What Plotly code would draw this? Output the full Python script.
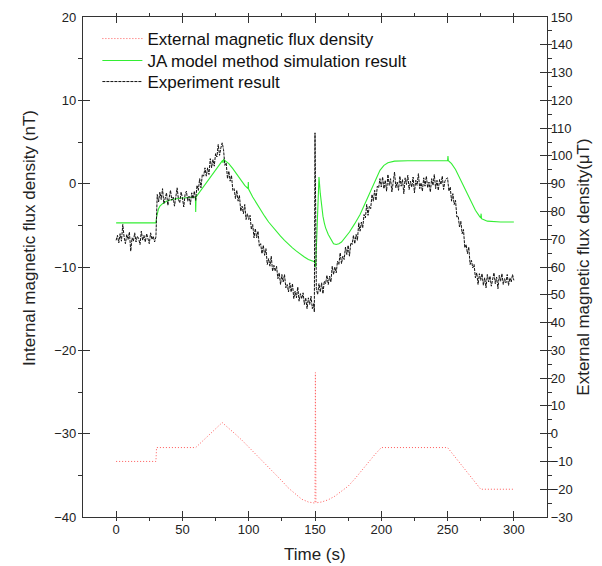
import plotly.graph_objects as go

# ---------------- data ----------------
ext_time = [0, 30, 30.5, 60, 80, 85, 90, 95, 100, 105, 110, 115, 120, 125, 130, 135, 140, 145, 150,
            150.3, 150.7, 155, 160, 165, 170, 175, 180, 185, 190, 195, 200, 250, 275, 300]
ext_vals = [-10, -10, -5, -5, 4, 2.0, -0.2, -2.4, -4.8, -7.3, -9.7, -12.0, -14.5, -17.0, -19.6, -21.7, -23.6, -24.6, -25.0,
            22, -24.9, -24.6, -23.8, -22.5, -20.8, -18.9, -16.3, -13.3, -10.3, -7.6, -5.0, -5, -20, -20]

ja_time = [0, 30, 30.5, 31, 32, 33, 35, 38, 42, 48, 55, 59.8, 60, 60.3, 80.3, 80.6, 81, 82, 85, 88, 91, 94, 97,
           99.5, 99.7, 99.9, 103, 106, 109, 112, 115, 118, 121, 124, 127, 130, 133, 136, 139, 142, 145, 148, 150,
           150.5, 153, 154, 155, 156, 157, 158, 160, 162, 164, 166, 168, 170, 172, 174, 176, 180, 184, 188, 192,
           196, 199, 202, 205, 210, 220, 250, 250.3, 250.6, 253, 256, 259, 262, 265, 268, 271, 274, 275, 275.3,
           275.6, 277, 280, 290, 300]
ja_vals = [-4.7, -4.7, -4.0, -3.5, -3.0, -2.7, -2.4, -2.1, -1.9, -1.75, -1.65, -1.6, -3.4, -1.6, 2.8, 2.5, 2.9, 2.8,
           2.4, 1.8, 1.1, 0.4, -0.2, -0.6, 0.2, -0.65, -1.6, -2.4, -3.2, -3.9, -4.6, -5.2, -5.8, -6.3, -6.8, -7.3,
           -7.7, -8.1, -8.5, -8.8, -9.1, -9.3, -9.4, -10.0, 0.8, -1.2, -2.8, -3.9, -4.7, -5.3, -6.1, -6.7, -7.2,
           -7.3, -7.2, -7.0, -6.6, -6.2, -5.8, -4.8, -3.7, -2.3, -0.9, 0.6, 1.6, 2.2, 2.5, 2.7, 2.75, 2.75, 3.3,
           2.75, 2.4, 1.7, 0.7, -0.3, -1.3, -2.3, -3.2, -3.9, -4.1, -3.6, -4.2, -4.3, -4.5, -4.6, -4.6]

exp_time = list(range(0, 150)) + [149.5, 150, 150.5] + list(range(151, 301))
exp_vals = [
    # 0-29
    -6.8, -6.2, -7.1, -6.0, -6.9, -4.9, -6.4, -7.2, -6.1, -6.7, -5.8, -8.1, -6.5, -6.9, -5.9, -7.0, -6.3, -6.6,
    -7.3, -5.7, -6.8, -6.2, -7.0, -6.0, -6.6, -7.2, -5.9, -6.7, -6.3, -7.0,
    # 30-59
    -6.4, -1.3, -2.2, -1.0, -1.9, -0.6, -2.4, -1.5, -1.1, -2.6, -1.4, -0.8, -2.0, -1.6, -2.7, -1.2, -0.5, -1.9,
    -2.3, -1.0, -1.7, -2.8, -1.3, -0.9, -2.1, -1.5, -2.5, -1.1, -1.8, -0.9,
    # 60-80
    -2.0, -0.2, -0.8, 0.6, -0.5, 1.1, 0.9, 1.9, 0.9, 1.9, 1.1, 3.0, 1.9, 2.9, 2.1, 3.6, 3.2, 4.7, 3.4, 4.3, 4.9,
    # 81-149
    4.1, 2.2, 2.5, 0.6, 1.5, 0.3, 1.0, -0.8, -0.6, -1.8, -0.8, -2.1, -1.4, -3.3, -2.7, -3.6, -2.5, -4.3, -3.6,
    -4.3, -3.8, -5.5, -4.9, -6.5, -5.4, -6.5, -5.7, -7.5, -7.2, -8.4, -7.4, -8.6, -7.8, -9.7, -9.0, -9.9, -8.7,
    -10.5, -9.8, -10.5, -9.9, -11.4, -10.7, -12.1, -10.9, -11.8, -10.9, -12.5, -12.1, -13.0, -11.9, -13.0,
    -12.0, -13.8, -12.9, -13.7, -12.4, -14.1, -13.2, -13.8, -13.1, -14.5, -13.7, -15.0, -13.7, -14.5, -13.5,
    -15.0, -14.4,
    # 149.5, 150, 150.5
    -15.4, 6.1, -12.0,
    # 151-200
    -12.6, -13.3, -12.0, -13.0, -11.9, -13.2, -11.7, -12.0, -11.0, -12.1, -11.1, -11.8, -9.9, -10.9, -10.0,
    -10.7, -9.3, -9.7, -8.3, -9.6, -8.7, -9.1, -7.6, -8.5, -7.4, -8.7, -7.1, -7.3, -6.2, -7.2, -6.1, -6.8,
    -4.7, -5.7, -4.6, -5.3, -3.7, -4.1, -2.5, -3.8, -2.7, -3.0, -1.3, -2.1, -0.8, -2.0, -0.3, -0.5, 0.6, -0.4,
    # 201-249
    0.8, -0.6, 0.4, -0.9, 1.1, -0.2, 0.6, -1.0, 0.3, 1.4, -0.5, 0.2, -0.8, 0.9, -0.3, 0.5, -1.2, 0.7, -0.1,
    1.0, -0.7, 0.3, -0.4, 0.8, -1.1, 0.4, -0.2, 1.2, -0.6, 0.1, -0.9, 0.7, -0.3, 0.9, -0.5, 0.2, -1.0, 0.6,
    -0.2, 1.1, -0.6, 0.4, -0.8, 0.5, -0.1, 0.9, -0.7, 0.3, 0.6,
    # 250-275
    0.7, -0.9, -0.4, -2.1, -1.2, -2.5, -2.0, -4.0, -3.9, -5.2, -4.5, -6.0, -5.5, -7.7, -7.3, -8.4, -7.6, -9.7,
    -9.2, -10.1, -9.7, -11.3, -10.7, -12.1, -10.8, -11.6,
    # 276-300
    -10.8, -12.2, -11.3, -12.5, -10.9, -11.8, -11.1, -12.3, -11.4, -10.7, -12.0, -11.2, -12.6, -11.0, -11.7,
    -10.8, -12.1, -11.4, -11.9, -10.9, -12.2, -11.3, -11.8, -10.9, -11.6,
]

FONT = "Liberation Sans, Arial, sans-serif"
AXC = "#333333"

fig = go.Figure()
fig.add_trace(go.Scatter(x=ext_time, y=ext_vals, yaxis="y2", mode="lines",
                         name="External magnetic flux density", legend="legend",
                         line=dict(color="#ff5a5a", width=1, dash="1px,2px")))
fig.add_trace(go.Scatter(x=ja_time, y=ja_vals, mode="lines",
                         name="JA model method simulation result", legend="legend2",
                         line=dict(color="#33ee33", width=1.1)))
fig.add_trace(go.Scatter(x=exp_time, y=exp_vals, mode="lines",
                         name="Experiment result", legend="legend3",
                         line=dict(color="#111111", width=1, dash="3px,1px")))

leg_common = dict(x=0.031, xanchor="left", yanchor="middle", bgcolor="rgba(0,0,0,0)",
                  font=dict(size=17, family=FONT, color="#111"), itemwidth=40)

axis_common = dict(ticks="inside", tickcolor=AXC, tickwidth=1, showline=True, linecolor=AXC,
                   linewidth=1.3, showgrid=False, zeroline=False, automargin=False)

fig.update_layout(
    width=602, height=566,
    margin=dict(l=83, r=55, t=17, b=49),
    paper_bgcolor="white", plot_bgcolor="white",
    font=dict(family=FONT, size=13, color="#222"),
    showlegend=True,
    legend=dict(y=0.956, **leg_common),
    legend2=dict(y=0.912, **leg_common),
    legend3=dict(y=0.870, **leg_common),
    xaxis=dict(range=[-25, 325], tick0=0, dtick=50, ticklen=6, mirror="ticks",
               minor=dict(ticklen=3, dtick=25),
               **axis_common),
    yaxis=dict(range=[-40, 20], tick0=0, dtick=10, ticklen=7, ticklabelstandoff=3,
               minor=dict(ticklen=4, dtick=5),
               **axis_common),
    yaxis2=dict(range=[-30, 150], tick0=0, dtick=10, overlaying="y", side="right", ticklen=7,
                minor=dict(ticklen=4, dtick=5),
                title=dict(text="External magnetic flux density(μT)", font=dict(size=17), standoff=5),
                **axis_common),
    annotations=[
        dict(text="Internal magnetic flux density (nT)", textangle=-90,
             xref="paper", yref="paper", x=-0.114, y=0.558,
             xanchor="center", yanchor="middle", showarrow=False,
             font=dict(size=17, family=FONT, color="#222")),
        dict(text="Time (s)", xref="paper", yref="paper", x=0.5, y=-0.074,
             xanchor="center", yanchor="middle", showarrow=False,
             font=dict(size=17, family=FONT, color="#222")),
    ],
)

fig.write_html("out.html")
